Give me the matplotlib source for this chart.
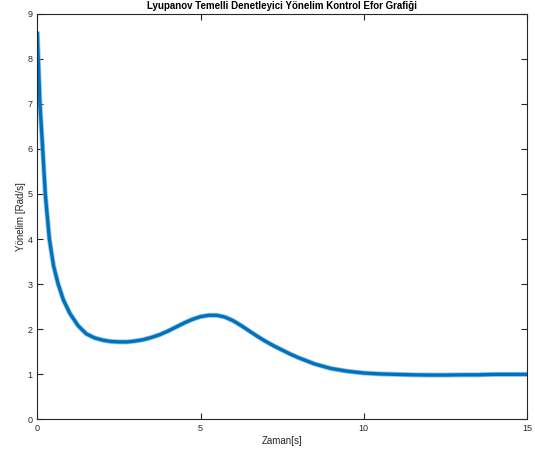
import numpy as np
import matplotlib.pyplot as plt

plt.rcParams['font.family'] = ['Liberation Sans', 'DejaVu Sans']

# values (time [s], heading effort [rad/s])
zaman = [0.0, 0.03, 0.08, 0.165, 0.245, 0.37, 0.5, 0.64, 0.8, 1.0,
         1.25, 1.5, 1.75, 2.0, 2.25, 2.5, 2.75, 3.0, 3.25, 3.5,
         3.75, 4.0, 4.25, 4.5, 4.75, 5.0, 5.25, 5.5, 5.75, 6.0,
         6.25, 6.5, 6.75, 7.0, 7.25, 7.5, 7.75, 8.0, 8.5, 9.0, 9.5, 10.0,
         10.5, 11.0, 11.5, 12.0, 12.5, 13.0, 13.5, 14.0, 14.5, 15.0]
yonelim = [8.6, 8.0, 7.0, 6.0, 5.0, 4.0, 3.4, 3.0, 2.65, 2.35,
           2.08, 1.9, 1.81, 1.76, 1.73, 1.72, 1.72, 1.74, 1.77, 1.82,
           1.88, 1.96, 2.05, 2.14, 2.22, 2.28, 2.31, 2.31, 2.27, 2.19,
           2.08, 1.96, 1.84, 1.73, 1.63, 1.54, 1.45, 1.37, 1.23, 1.13, 1.07, 1.03,
           1.01, 1.0, 0.99, 0.985, 0.985, 0.99, 0.99, 1.0, 1.0, 1.0]

x_ticks = [0, 5, 10, 15]
y_ticks = list(range(10))

fig = plt.figure(figsize=(5.35, 4.53), dpi=100)
ax = fig.add_axes([0.0697, 0.074, 0.9153, 0.896])

# blurry outer band + solid core, like the rippled MATLAB trace
ax.plot(zaman, yonelim, color='#6aaee0', lw=3.6, alpha=0.7, solid_capstyle='butt')
ax.plot(zaman, yonelim, color='#0072BD', lw=2.4, solid_capstyle='butt')

ax.set_xlim(0, 15)
ax.set_ylim(0, 9)
ax.set_xticks(x_ticks)
ax.set_yticks(y_ticks)

grey = '#262626'
for s in ax.spines.values():
    s.set_color(grey)
    s.set_linewidth(0.8)
ax.tick_params(direction='in', length=4, width=0.8, colors=grey,
               labelsize=6.5, top=True, right=True)

ax.set_title('Lyupanov Temelli Denetleyici Yönelim Kontrol Efor Grafiği',
             fontsize=7, fontweight='bold', pad=3)
ax.set_xlabel('Zaman[s]', fontsize=7, color=grey, labelpad=2)
ax.set_ylabel('Yönelim [Rad/s]', fontsize=7, color=grey, labelpad=1)

fig.savefig('out.png', dpi=100)
